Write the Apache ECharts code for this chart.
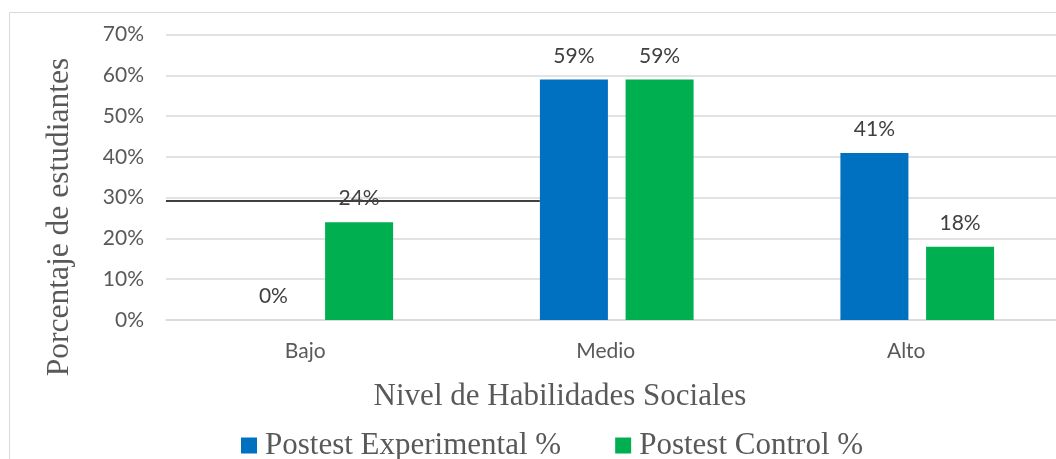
<!DOCTYPE html>
<html>
<head>
<meta charset="utf-8">
<script src="https://cdn.jsdelivr.net/npm/echarts@6/dist/echarts.min.js"></script>
<style>
  html, body { margin: 0; padding: 0; width: 1056px; height: 459px; overflow: hidden; background: #fff; }
  #chart { position: absolute; left: 0; top: 0; width: 1100px; height: 480px; }
</style>
</head>
<body>
<div id="chart"></div>
<script>
// Social-skills level distribution, post-test groups
const categories = ['Bajo', 'Medio', 'Alto'];
const experimental = [0, 59, 41];
const control = [24, 59, 18];
const seriesNames = ['Postest Experimental %', 'Postest Control %'];
const yAxisTitle = 'Porcentaje de estudiantes';
const xAxisTitle = 'Nivel de Habilidades Sociales';
// horizontal reference rule at ~29 %, from the left edge of the plot to the Medio bars
const refLine = [[-0.5, 29.2], [0.744, 29.2]];

const sans = 'Lato, "Open Sans", sans-serif';
const serif = '"Liberation Serif", "DejaVu Serif", serif';

const chart = echarts.init(document.getElementById('chart'), null, { renderer: 'canvas' });

chart.setOption({
  animation: false,
  backgroundColor: '#ffffff',
  grid: { left: 166, top: 34.7, right: 32.5, bottom: 160, containLabel: false },
  xAxis: [
    {
      type: 'category',
      data: categories,
      axisLine: { show: true, lineStyle: { color: '#d9d9d9', width: 1.5 } },
      axisTick: { show: false },
      axisLabel: { color: '#595959', fontFamily: sans, fontSize: 21, margin: 21, padding: [0, 22, 0, 0] },
      splitLine: { show: false }
    },
    {
      type: 'value',
      min: -0.5,
      max: 2.5,
      show: false
    }
  ],
  yAxis: {
    type: 'value',
    min: 0,
    max: 70,
    interval: 10,
    axisLine: { show: false },
    axisTick: { show: false },
    axisLabel: { formatter: '{value}%', color: '#595959', fontFamily: sans, fontSize: 21, margin: 22 },
    splitLine: { lineStyle: { color: '#d9d9d9', width: 1.5 } }
  },
  legend: {
    data: seriesNames,
    left: 236,
    top: 425,
    icon: 'rect',
    itemWidth: 16,
    itemHeight: 16,
    itemGap: 54,
    textStyle: { fontFamily: serif, fontSize: 31, color: '#595959', padding: [0, 0, 0, 3] }
  },
  graphic: [
    {
      type: 'rect',
      silent: true,
      shape: { x: 9.5, y: 12.5, width: 1200, height: 600 },
      style: { fill: 'none', stroke: '#d9d9d9', lineWidth: 1 },
      z: -10
    },
    {
      type: 'text',
      silent: true,
      x: 60,
      y: 217,
      rotation: Math.PI / 2,
      style: { text: yAxisTitle, font: '31.5px ' + serif, fill: '#595959', align: 'center', verticalAlign: 'middle' }
    },
    {
      type: 'text',
      silent: true,
      x: 560,
      y: 397,
      style: { text: xAxisTitle, font: '31px ' + serif, fill: '#595959', align: 'center', verticalAlign: 'middle' }
    }
  ],
  series: [
    {
      name: seriesNames[0],
      type: 'bar',
      data: experimental,
      barWidth: 68,
      barGap: '26%',
      itemStyle: { color: '#0070c0' },
      label: { show: true, position: 'top', distance: 13, formatter: '{c}%', color: '#404040', fontFamily: sans, fontSize: 21 }
    },
    {
      name: seriesNames[1],
      type: 'bar',
      data: control,
      barWidth: 68,
      barGap: '26%',
      itemStyle: { color: '#00b050' },
      label: { show: true, position: 'top', distance: 13, formatter: '{c}%', color: '#404040', fontFamily: sans, fontSize: 21 }
    },
    {
      type: 'line',
      xAxisIndex: 1,
      data: refLine,
      showSymbol: false,
      silent: true,
      z: 5,
      lineStyle: { color: '#404040', width: 2 }
    }
  ]
});
</script>
</body>
</html>
